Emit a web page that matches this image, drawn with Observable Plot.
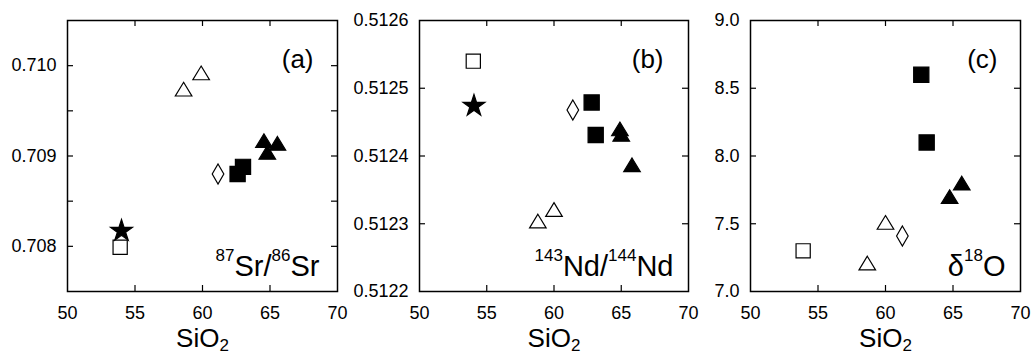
<!DOCTYPE html>
<html><head><meta charset="utf-8">
<script src="https://cdn.jsdelivr.net/npm/d3@7"></script>
<script src="https://cdn.jsdelivr.net/npm/@observablehq/plot@0.6"></script>
<style>
body{margin:0;background:#fff;}
#wrap{position:relative;width:1034px;height:354px;font-family:"Liberation Sans",Arial,Helvetica,sans-serif;}
#wrap svg{position:absolute;top:0;overflow:visible;background:transparent !important;}
</style></head><body><div id="wrap"></div>
<script>
// ---------- data ----------
const xTicks = [50, 55, 60, 65, 70];
const xInner = [55, 60, 65];
const xLabel = [["SiO", ""], ["2", "sub"]];

// Panel (a) 87Sr/86Sr
const srKinds = ["openSquare","star","openTriangle","openTriangle","diamond","filledSquare","filledSquare","filledTriangle","filledTriangle","filledTriangle"];
const srSiO2  = [53.9, 54.0, 58.6, 59.9, 61.15, 62.6, 63.0, 64.55, 64.8, 65.55];
const srRatio = [0.70799, 0.70817, 0.70974, 0.70992, 0.70880, 0.70880, 0.70888, 0.70917, 0.70904, 0.70914];
const srLabelTicks = [0.708, 0.709, 0.710];
const srInner = [0.708, 0.7085, 0.709, 0.7095, 0.710];
const srLabel = [["87","sup"],["Sr/",""],["86","sup"],["Sr",""]];

// Panel (b) 143Nd/144Nd
const ndKinds = ["openSquare","star","openTriangle","openTriangle","diamond","filledSquare","filledSquare","filledTriangle","filledTriangle","filledTriangle"];
const ndSiO2  = [54.0, 54.05, 58.8, 60.0, 61.4, 62.8, 63.1, 64.9, 65.0, 65.8];
const ndRatio = [0.51254, 0.512474, 0.512304, 0.512321, 0.512468, 0.512479, 0.512431, 0.51244, 0.512432, 0.512387];
const ndLabelTicks = [0.5122, 0.5123, 0.5124, 0.5125, 0.5126];
const ndInner = [0.5123, 0.5124, 0.5125];
const ndLabel = [["143","sup"],["Nd/",""],["144","sup"],["Nd",""]];

// Panel (c) delta 18O
const oKinds = ["openSquare","openTriangle","openTriangle","diamond","filledSquare","filledSquare","filledTriangle","filledTriangle"];
const oSiO2  = [53.9, 58.65, 60.0, 61.25, 62.65, 63.05, 64.75, 65.65];
const oDelta = [7.30, 7.21, 7.51, 7.41, 8.60, 8.10, 7.70, 7.80];
const oLabelTicks = [7.0, 7.5, 8.0, 8.5, 9.0];
const oInner = [7.5, 8.0, 8.5];
const oLabel = [["δ",""],["18","sup"],["O",""]];

const tags = ["(a)", "(b)", "(c)"];

// ---------- symbols ----------
const rOf = size => Math.sqrt(size / Math.PI);
const squareSym = {draw(c, s){ const r = rOf(s); c.rect(-r, -r, 2*r, 2*r); }};
const triSym = {draw(c, s){ const r = rOf(s), w = r*1.15, h = r*0.95; c.moveTo(0, -h); c.lineTo(w, h); c.lineTo(-w, h); c.closePath(); }};
const diamondSym = {draw(c, s){ const r = rOf(s), w = r*0.58; c.moveTo(0, -r); c.lineTo(w, 0); c.lineTo(0, r); c.lineTo(-w, 0); c.closePath(); }};
const starSym = {draw(c, s){ const R = rOf(s), ri = R*0.382;
  for (let i = 0; i < 10; i++) { const a = -Math.PI/2 + i*Math.PI/5, rr = i%2 ? ri : R;
    const px = rr*Math.cos(a), py = rr*Math.sin(a); i ? c.lineTo(px, py) : c.moveTo(px, py); }
  c.closePath(); }};

const kindStyle = {
  openSquare:     {symbol: squareSym,  r: 7.1, fill: "white"},
  star:           {symbol: starSym,    r: 11.5, fill: "black"},
  openTriangle:   {symbol: triSym,     r: 7.2, fill: "white"},
  diamond:        {symbol: diamondSym, r: 10,  fill: "white"},
  filledSquare:   {symbol: squareSym,  r: 7.6, fill: "black"},
  filledTriangle: {symbol: triSym,     r: 7.2, fill: "black"}
};
const kindOrder = ["openSquare","star","openTriangle","diamond","filledSquare","filledTriangle"];

function rich(svg, plain, segs, small, shift) {
  const t = Array.from(svg.querySelectorAll("text")).find(e => e.textContent === plain);
  if (!t) return;
  t.textContent = "";
  let cur = 0;
  for (const [s, kind] of segs) {
    const ts = document.createElementNS("http://www.w3.org/2000/svg", "tspan");
    const target = kind === "sup" ? -shift : kind === "sub" ? shift : 0;
    if (target !== cur) ts.setAttribute("dy", target - cur);
    cur = target;
    if (kind) ts.setAttribute("font-size", small);
    ts.textContent = s;
    t.appendChild(ts);
  }
}

function panel(o) {
  const H = 354, mt = 20, mb = 63;
  const fh = H - mt - mb, fw = o.width - o.ml - o.mr;
  const data = o.xs.map((x, i) => ({x, y: o.ys[i], k: o.ks[i]}));
  const isoPlain = o.label.map(s => s[0]).join("");
  const xPlain = xLabel.map(s => s[0]).join("");
  const marks = [
    Plot.ruleX(xInner, {x: d => d, insetTop: fh - 6, strokeWidth: 1.2}),
    Plot.ruleX(xInner, {x: d => d, insetBottom: fh - 6, strokeWidth: 1.2}),
    Plot.ruleY(o.inner, {y: d => d, insetRight: fw - 6, strokeWidth: 1.2}),
    Plot.ruleY(o.inner, {y: d => d, insetLeft: fw - 6, strokeWidth: 1.2}),
    Plot.axisX({ticks: xTicks, tickSize: 0, tickPadding: 15, fontSize: 18, tickFormat: d => String(d), label: null}),
    Plot.axisY({ticks: o.labelTicks, tickSize: 0, tickPadding: 11, fontSize: 18, tickFormat: o.fmt, label: null}),
    Plot.frame({stroke: "black", strokeWidth: 1.5})
  ];
  for (const k of kindOrder) {
    const sub = data.filter(d => d.k === k);
    if (!sub.length) continue;
    const st = kindStyle[k];
    marks.push(Plot.dot(sub, {x: "x", y: "y", symbol: st.symbol, r: st.r, fill: st.fill, stroke: "black", strokeWidth: 1.2}));
  }
  marks.push(Plot.text([o.tag], {text: d => d, frameAnchor: "top-right", textAnchor: "end", lineAnchor: "bottom", dx: -o.tagDx, dy: 47, fontSize: 26, fill: "black"}));
  marks.push(Plot.text([isoPlain], {text: d => d, frameAnchor: "bottom-right", textAnchor: "end", lineAnchor: "bottom", dx: -o.labelDx, dy: -16, fontSize: 29, fill: "black"}));
  marks.push(Plot.text([xPlain], {text: d => d, frameAnchor: "bottom", textAnchor: "middle", lineAnchor: "bottom", dy: 55, fontSize: 26, fill: "black"}));
  const svg = Plot.plot({
    width: o.width, height: H,
    marginLeft: o.ml, marginRight: o.mr, marginTop: mt, marginBottom: mb,
    style: {fontFamily: '"Liberation Sans", Arial, Helvetica, sans-serif', fontSize: "18px", color: "black", background: "transparent"},
    x: {domain: [50, 70]},
    y: {domain: o.yDomain},
    marks
  });
  svg.style.left = o.left + "px";
  rich(svg, isoPlain, o.label, 17, 15);
  rich(svg, xPlain, xLabel, 17, 4);
  document.getElementById("wrap").appendChild(svg);
}

panel({left: 0, width: 345, ml: 67, mr: 8, xs: srSiO2, ys: srRatio, ks: srKinds, yDomain: [0.7075, 0.7105],
  labelTicks: srLabelTicks, inner: srInner, fmt: d3.format(".3f"), tag: tags[0], tagDx: 24, label: srLabel, labelDx: 18});
panel({left: 345, width: 345, ml: 74, mr: 2, xs: ndSiO2, ys: ndRatio, ks: ndKinds, yDomain: [0.5122, 0.5126],
  labelTicks: ndLabelTicks, inner: ndInner, fmt: d3.format(".4f"), tag: tags[1], tagDx: 25, label: ndLabel, labelDx: 15});
panel({left: 690, width: 344, ml: 60, mr: 14, xs: oSiO2, ys: oDelta, ks: oKinds, yDomain: [7.0, 9.0],
  labelTicks: oLabelTicks, inner: oInner, fmt: d3.format(".1f"), tag: tags[2], tagDx: 23, label: oLabel, labelDx: 15});
</script></body></html>
